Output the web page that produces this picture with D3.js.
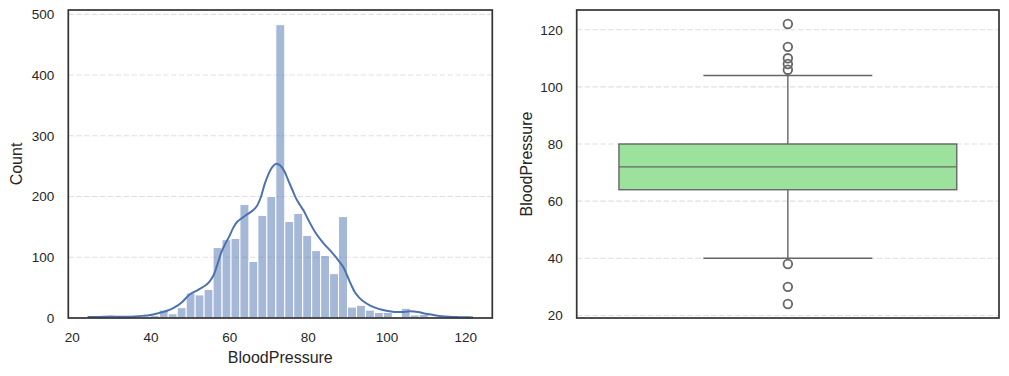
<!DOCTYPE html>
<html>
<head>
<meta charset="utf-8">
<script src="https://cdn.jsdelivr.net/npm/d3@7"></script>
<style>
  html, body { margin: 0; padding: 0; background: #fff; }
  svg { display: block; font-family: "Liberation Sans", Arial, sans-serif; }
</style>
</head>
<body>
<svg id="chart" width="1009" height="376"></svg>
<script>
// ---------- Data ----------
const binEdges = [24.00, 26.28, 28.56, 30.84, 33.12, 35.40, 37.67, 39.95, 42.23, 44.51,
  46.79, 49.07, 51.35, 53.63, 55.91, 58.19, 60.47, 62.74, 65.02, 67.30,
  69.58, 71.86, 74.14, 76.42, 78.70, 80.98, 83.26, 85.53, 87.81, 90.09,
  92.37, 94.65, 96.93, 99.21, 101.49, 103.77, 106.05, 108.33, 110.60, 112.88,
  115.16, 117.44, 119.72, 122.00];
const binCounts = [1, 0, 2, 0, 0, 0, 2, 4, 13, 7,
  17, 41, 38, 47, 116, 129, 131, 187, 93, 169,
  200, 483, 159, 172, 136, 111, 103, 73, 167, 18,
  21, 13, 9, 9, 0, 16, 5, 6, 0, 2,
  0, 0, 1];
const kdeX = [24, 26, 28, 30, 32, 34, 36, 38, 40, 42, 44, 46, 48, 50, 52, 54, 55, 56, 57, 58,
  59, 60, 61, 62, 64, 66, 67, 68, 69, 70, 71, 72, 73, 74, 75, 76, 77, 78, 79, 80,
  82, 84, 86, 88, 89, 90, 91, 92, 93, 94, 96, 98, 100, 102, 104, 106, 108, 110, 112, 114,
  116, 118, 120, 122];
const kdeY = [1.5, 1.5, 2, 2.5, 2, 2, 2.5, 3.5, 5, 8, 11.5, 17, 26, 39, 46, 54, 60, 70, 88, 108,
  122, 134, 148, 158, 168, 177, 184, 198, 220, 237, 249, 254, 251, 242, 227, 212, 197, 186, 176, 163,
  140, 123, 109, 93, 84, 70, 55, 42, 34, 28, 20, 15, 12, 10, 10, 11, 10, 7, 5, 3,
  2, 1.5, 1.2, 1];
const histXTicks = [20, 40, 60, 80, 100, 120];
const histYTicks = [0, 100, 200, 300, 400, 500];
const boxYTicks = [20, 40, 60, 80, 100, 120];
const boxQ1 = 64, boxMedian = 72, boxQ3 = 80, whiskerLow = 40, whiskerHigh = 104;
const outliers = [122, 114, 110, 108, 106, 38, 30, 24];
const varName = "BloodPressure";

// ---------- Layout ----------
const svg = d3.select("#chart");
const textColor = "#262626";
const spineColor = "#333333";
const gridColor = "#e0e0e0";
const tickFont = 13.5, labelFont = 16;
const plotTop = 10, plotBottom = 318;

function styleAxis(g) {
  g.select(".domain").remove();
  g.selectAll("text").attr("fill", textColor).style("font-size", tickFont + "px")
    .style("font-family", '"Liberation Sans", Arial, sans-serif');
}

// ---------- Left: histogram ----------
const L = { x0: 68.3, x1: 492.3 };
const xH = d3.scaleLinear().domain([19.1, 126.9]).range([L.x0, L.x1]);
const yH = d3.scaleLinear().domain([0, 507.15]).range([plotBottom, plotTop]);
const gL = svg.append("g");

gL.append("g").selectAll("line").data(histYTicks).join("line")
  .attr("x1", L.x0).attr("x2", L.x1)
  .attr("y1", d => yH(d)).attr("y2", d => yH(d))
  .attr("stroke", gridColor).attr("stroke-width", 1.1).attr("stroke-dasharray", "5.5,2.4");

gL.append("g").selectAll("rect").data(binCounts).join("rect")
  .attr("x", (d, i) => xH(binEdges[i]))
  .attr("width", (d, i) => xH(binEdges[i + 1]) - xH(binEdges[i]))
  .attr("y", d => yH(d))
  .attr("height", d => yH(0) - yH(d))
  .attr("fill", "#4c72b0").attr("fill-opacity", 0.5)
  .attr("stroke", "#ffffff").attr("stroke-width", 1);

const kdeLine = d3.line().x(d => xH(d[0])).y(d => yH(d[1])).curve(d3.curveCatmullRom.alpha(0.5));
gL.append("path").datum(kdeX.map((x, i) => [x, kdeY[i]]))
  .attr("d", kdeLine).attr("fill", "none")
  .attr("stroke", "#4c72b0").attr("stroke-width", 2).attr("stroke-linejoin", "round");

gL.append("g").attr("transform", `translate(0,${plotBottom})`)
  .call(d3.axisBottom(xH).tickValues(histXTicks).tickSize(0).tickPadding(14).tickFormat(d3.format("d")))
  .call(styleAxis);
gL.append("g").attr("transform", `translate(${L.x0},0)`)
  .call(d3.axisLeft(yH).tickValues(histYTicks).tickSize(0).tickPadding(14).tickFormat(d3.format("d")))
  .call(styleAxis);

gL.append("rect").attr("x", L.x0).attr("y", plotTop).attr("width", L.x1 - L.x0).attr("height", plotBottom - plotTop)
  .attr("fill", "none").attr("stroke", spineColor).attr("stroke-width", 1.7);

gL.append("text").attr("x", (L.x0 + L.x1) / 2).attr("y", 363).attr("text-anchor", "middle")
  .attr("fill", textColor).style("font-size", labelFont + "px").text(varName);
gL.append("text").attr("transform", `translate(21.5,${(plotTop + plotBottom) / 2}) rotate(-90)`)
  .attr("text-anchor", "middle").attr("fill", textColor).style("font-size", labelFont + "px").text("Count");

// ---------- Right: boxplot ----------
const R = { x0: 576.7, x1: 999 };
const xB = d3.scaleLinear().domain([-0.5, 0.5]).range([R.x0, R.x1]);
const yB = d3.scaleLinear().domain([19.1, 126.9]).range([plotBottom, plotTop]);
const gR = svg.append("g");
const boxLine = "#666666";

gR.append("g").selectAll("line").data(boxYTicks).join("line")
  .attr("x1", R.x0).attr("x2", R.x1)
  .attr("y1", d => yB(d)).attr("y2", d => yB(d))
  .attr("stroke", gridColor).attr("stroke-width", 1.1).attr("stroke-dasharray", "5.5,2.4");

// whiskers
gR.append("line").attr("x1", xB(0)).attr("x2", xB(0)).attr("y1", yB(boxQ3)).attr("y2", yB(whiskerHigh))
  .attr("stroke", boxLine).attr("stroke-width", 1.4);
gR.append("line").attr("x1", xB(0)).attr("x2", xB(0)).attr("y1", yB(boxQ1)).attr("y2", yB(whiskerLow))
  .attr("stroke", boxLine).attr("stroke-width", 1.4);
gR.selectAll(".cap").data([whiskerLow, whiskerHigh]).join("line").attr("class", "cap")
  .attr("x1", xB(-0.2)).attr("x2", xB(0.2)).attr("y1", d => yB(d)).attr("y2", d => yB(d))
  .attr("stroke", boxLine).attr("stroke-width", 1.4);
// box
gR.append("rect").attr("x", xB(-0.4)).attr("width", xB(0.4) - xB(-0.4))
  .attr("y", yB(boxQ3)).attr("height", yB(boxQ1) - yB(boxQ3))
  .attr("fill", "#9ce29c").attr("stroke", boxLine).attr("stroke-width", 1.4);
gR.append("line").attr("x1", xB(-0.4)).attr("x2", xB(0.4)).attr("y1", yB(boxMedian)).attr("y2", yB(boxMedian))
  .attr("stroke", boxLine).attr("stroke-width", 1.4);
// outliers
gR.selectAll(".out").data(outliers).join("circle").attr("class", "out")
  .attr("cx", xB(0)).attr("cy", d => yB(d)).attr("r", 4.3)
  .attr("fill", "none").attr("stroke", boxLine).attr("stroke-width", 1.8);

gR.append("g").attr("transform", `translate(${R.x0},0)`)
  .call(d3.axisLeft(yB).tickValues(boxYTicks).tickSize(0).tickPadding(14).tickFormat(d3.format("d")))
  .call(styleAxis);

gR.append("rect").attr("x", R.x0).attr("y", plotTop).attr("width", R.x1 - R.x0).attr("height", plotBottom - plotTop)
  .attr("fill", "none").attr("stroke", spineColor).attr("stroke-width", 1.7);

gR.append("text").attr("transform", `translate(531.5,${(plotTop + plotBottom) / 2}) rotate(-90)`)
  .attr("text-anchor", "middle").attr("fill", textColor).style("font-size", labelFont + "px").text(varName);
</script>
</body>
</html>
